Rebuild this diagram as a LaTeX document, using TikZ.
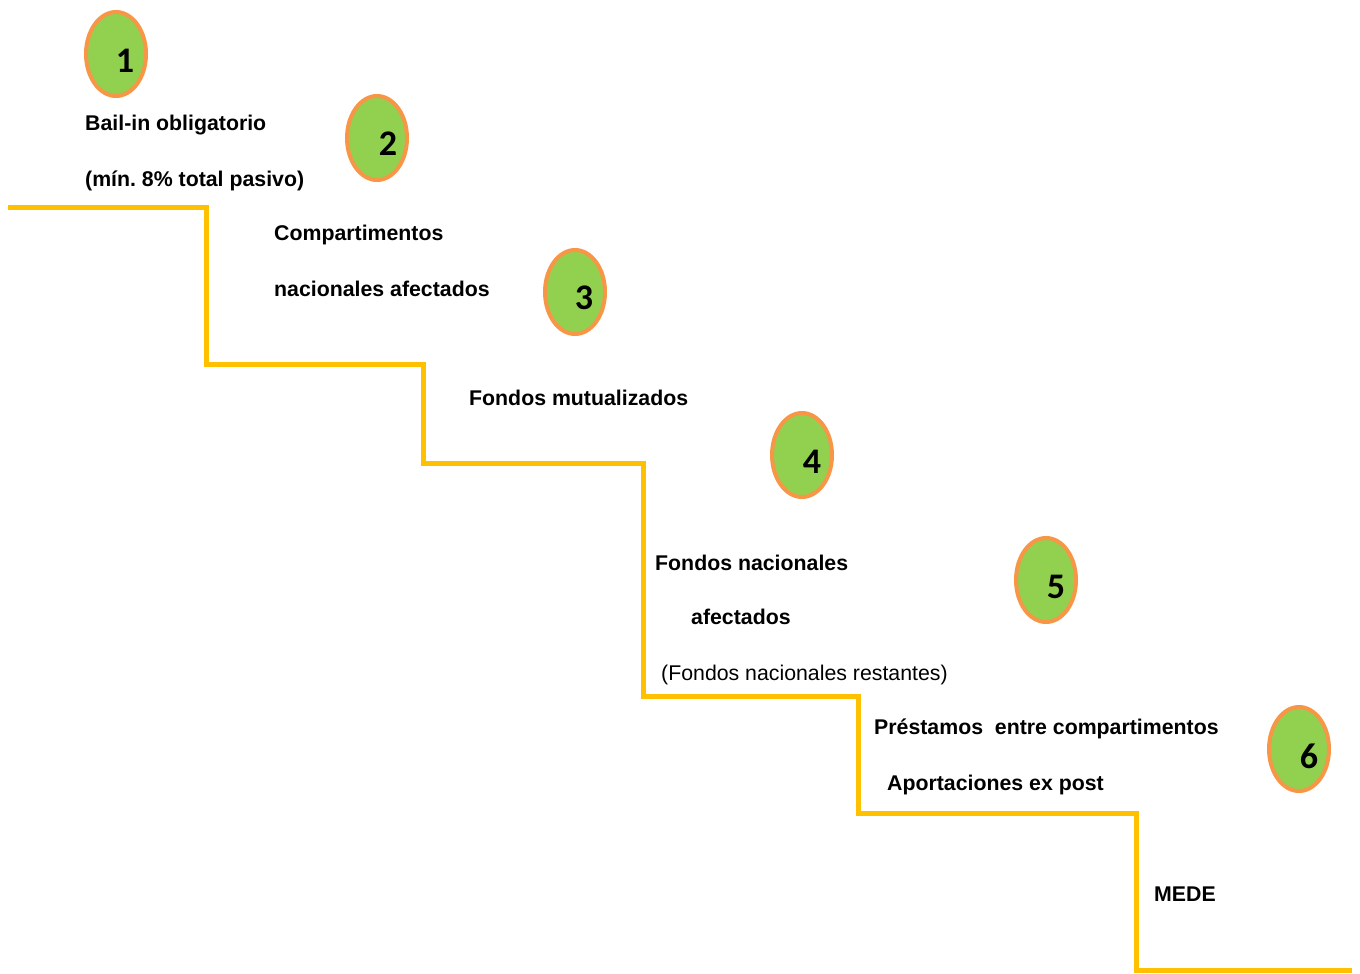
\documentclass[tikz,border=0pt]{standalone}
\usepackage{fontspec}
\setmainfont{Liberation Sans}
\newfontfamily\calibrifont{Carlito}
\usetikzlibrary{shapes.geometric}
\definecolor{stairgold}{HTML}{FFC000}
\definecolor{stepgreen}{HTML}{92D050}
\definecolor{steporange}{HTML}{F79646}
\frenchspacing

\begin{document}
\begin{tikzpicture}[x=1pt,y=-1pt,
  lab/.style={anchor=base west,inner sep=0pt,font=\fontsize{21.3}{25}\selectfont\bfseries},
  plainlab/.style={lab,font=\fontsize{21.3}{25}\selectfont},
  stepcirc/.style={ellipse,draw=steporange,fill=stepgreen,line width=4pt,minimum width=60pt,minimum height=84pt,inner sep=0pt},
  stepnum/.style={inner sep=0pt,font=\calibrifont\fontsize{36}{40}\selectfont\bfseries}]
\useasboundingbox (0,0) rectangle (1360,974);

% staircase
\draw [stairgold,line width=5pt] (8,207) -- (206,207) -- (206,364) -- (423,364) -- (423,463) -- (643,463) -- (643,696) -- (858,696) -- (858,813) -- (1136,813) -- (1136,970) -- (1352,970);

% numbered steps
\node [stepcirc] (c1) at (116,54) {}; \node [stepnum] (n1) at (125,61) {1};
\node [stepcirc] (c2) at (377,138) {}; \node [stepnum] (n2) at (388,144) {2};
\node [stepcirc] (c3) at (575,292) {}; \node [stepnum] (n3) at (584,298) {3};
\node [stepcirc] (c4) at (802,455) {}; \node [stepnum] (n4) at (812,462) {4};
\node [stepcirc] (c5) at (1046,580) {}; \node [stepnum] (n5) at (1056,587) {5};
\node [stepcirc] (c6) at (1299,749) {}; \node [stepnum] (n6) at (1309,756) {6};

% labels
\node [lab] (bail) at (85,130) {Bail-in obligatorio};
\node [lab] (minimo) at (85,186) {(mín. 8\% total pasivo)};
\node [lab] (compart) at (274,240) {Compartimentos};
\node [lab] (nacafect) at (274,296) {nacionales afectados};
\node [lab] (mutual) at (469,405) {Fondos mutualizados};
\node [lab] (fondnac) at (655,570) {Fondos nacionales};
\node [lab] (afect) at (691,624) {afectados};
\node [plainlab] (restantes) at (661,680) {(Fondos nacionales restantes)};
\node [lab] (prestamos) at (874,734) {Préstamos \ entre compartimentos};
\node [lab] (aport) at (887,790) {Aportaciones ex post};
\node [lab] (mede) at (1154,901) {MEDE};

\end{tikzpicture}
\end{document}
